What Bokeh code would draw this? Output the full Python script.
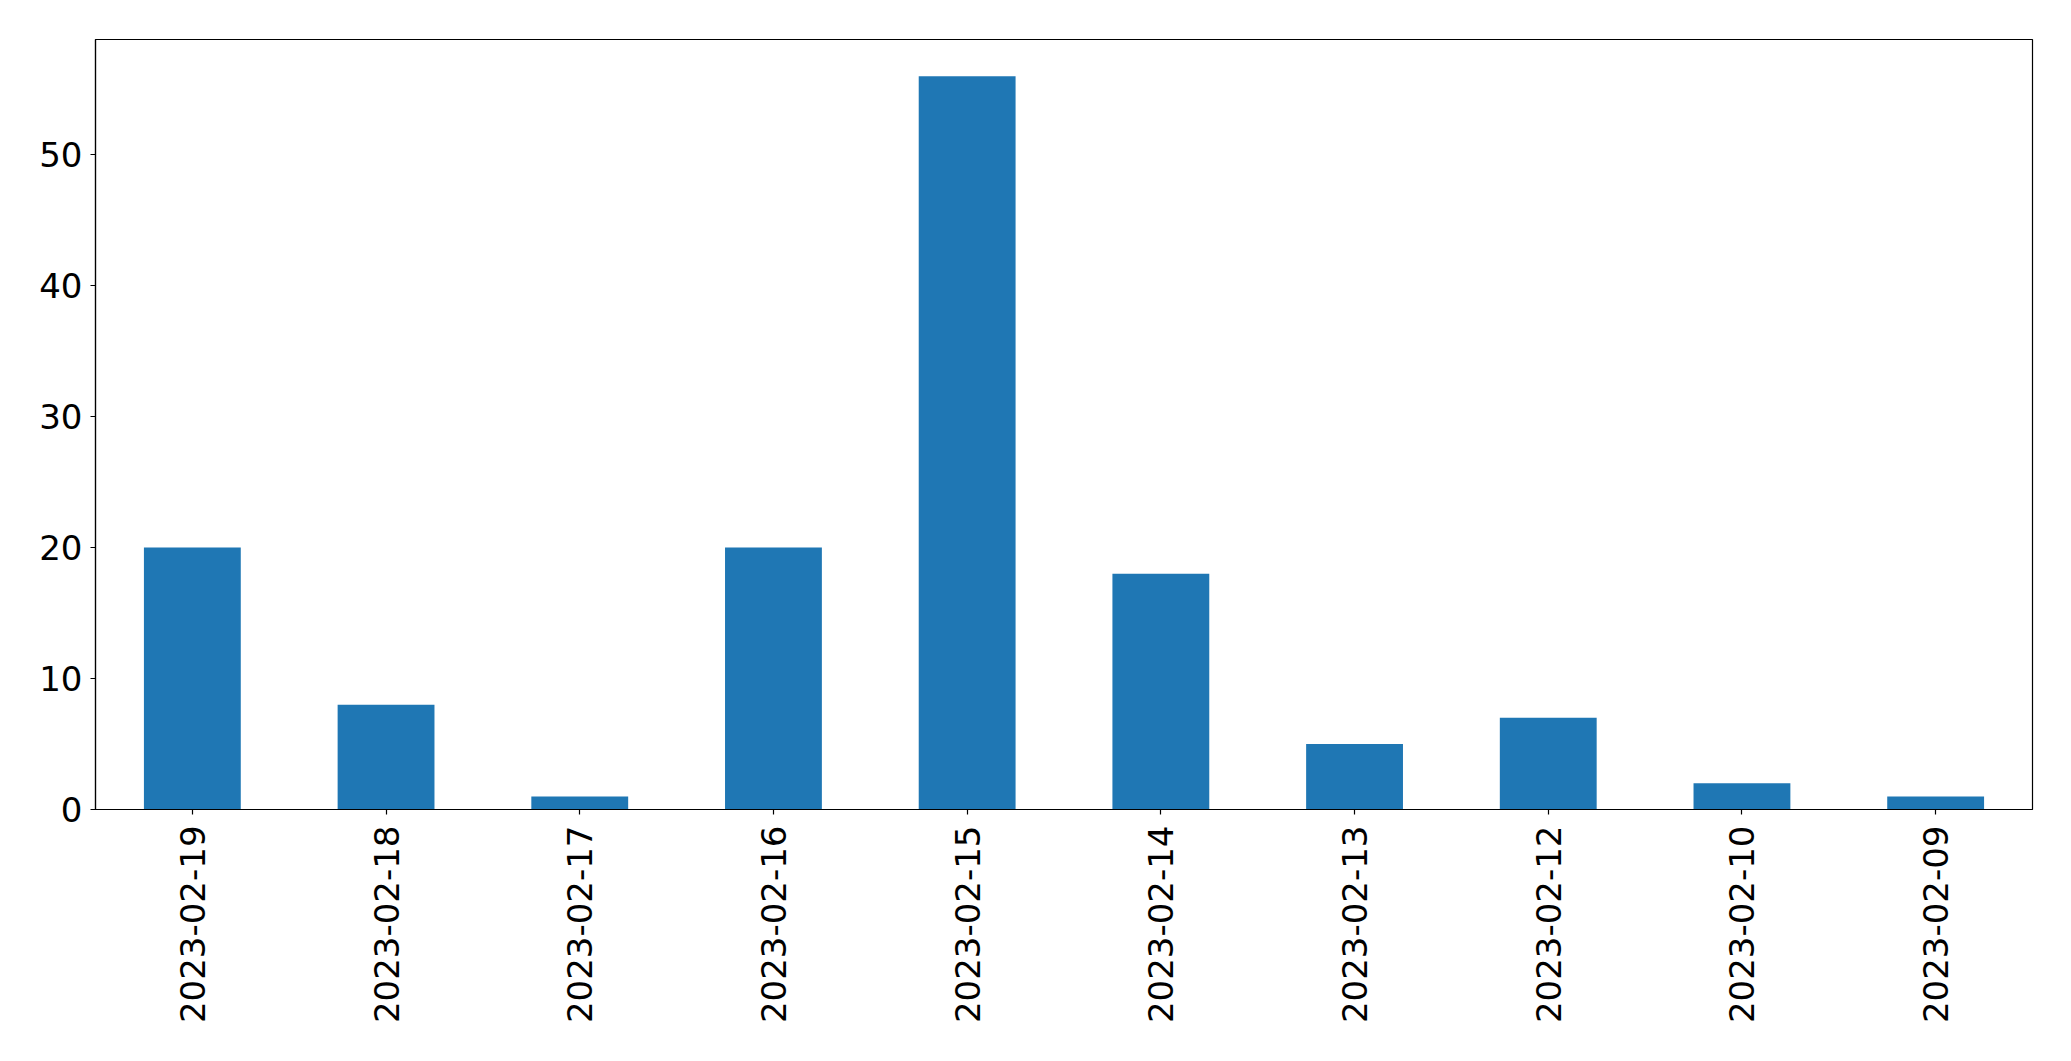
import math
from bokeh.plotting import figure
from bokeh.models import Range1d, FixedTicker
from bokeh.embed import file_html
from bokeh.resources import INLINE

dates = ["2023-02-19", "2023-02-18", "2023-02-17", "2023-02-16", "2023-02-15",
         "2023-02-14", "2023-02-13", "2023-02-12", "2023-02-10", "2023-02-09"]
counts = [20, 8, 1, 20, 56, 18, 5, 7, 2, 1]
y_ticks = [0, 10, 20, 30, 40, 50]

p = figure(x_range=dates, y_range=Range1d(0, max(counts) * 1.05),
           frame_width=1937, frame_height=770,
           min_border_left=95, min_border_top=39, min_border_right=24, min_border_bottom=236,
           output_backend="svg", toolbar_location=None, tools="")

p.vbar(x=dates, top=counts, width=0.5, color="#1f77b4", line_color=None)

p.xgrid.visible = False
p.ygrid.visible = False
p.outline_line_color = "black"
p.outline_line_width = 1.2
p.outline_line_alpha = 1
p.x_range.range_padding = 0

for ax in (p.xaxis, p.yaxis):
    ax.axis_line_color = "black"
    ax.axis_line_width = 1.2
    ax.major_tick_line_color = "black"
    ax.major_tick_line_width = 1.2
    ax.major_tick_out = 5
    ax.major_tick_in = 0
    ax.minor_tick_line_color = None
    ax.major_label_text_font = "DejaVu Sans"
    ax.major_label_text_font_size = "34px"
    ax.major_label_text_color = "black"

p.yaxis.ticker = FixedTicker(ticks=y_ticks)
p.yaxis.major_label_standoff = 8
p.xaxis.major_label_orientation = math.pi / 2
p.xaxis.major_label_standoff = 11

open("out.html", "w").write(file_html(p, INLINE))
